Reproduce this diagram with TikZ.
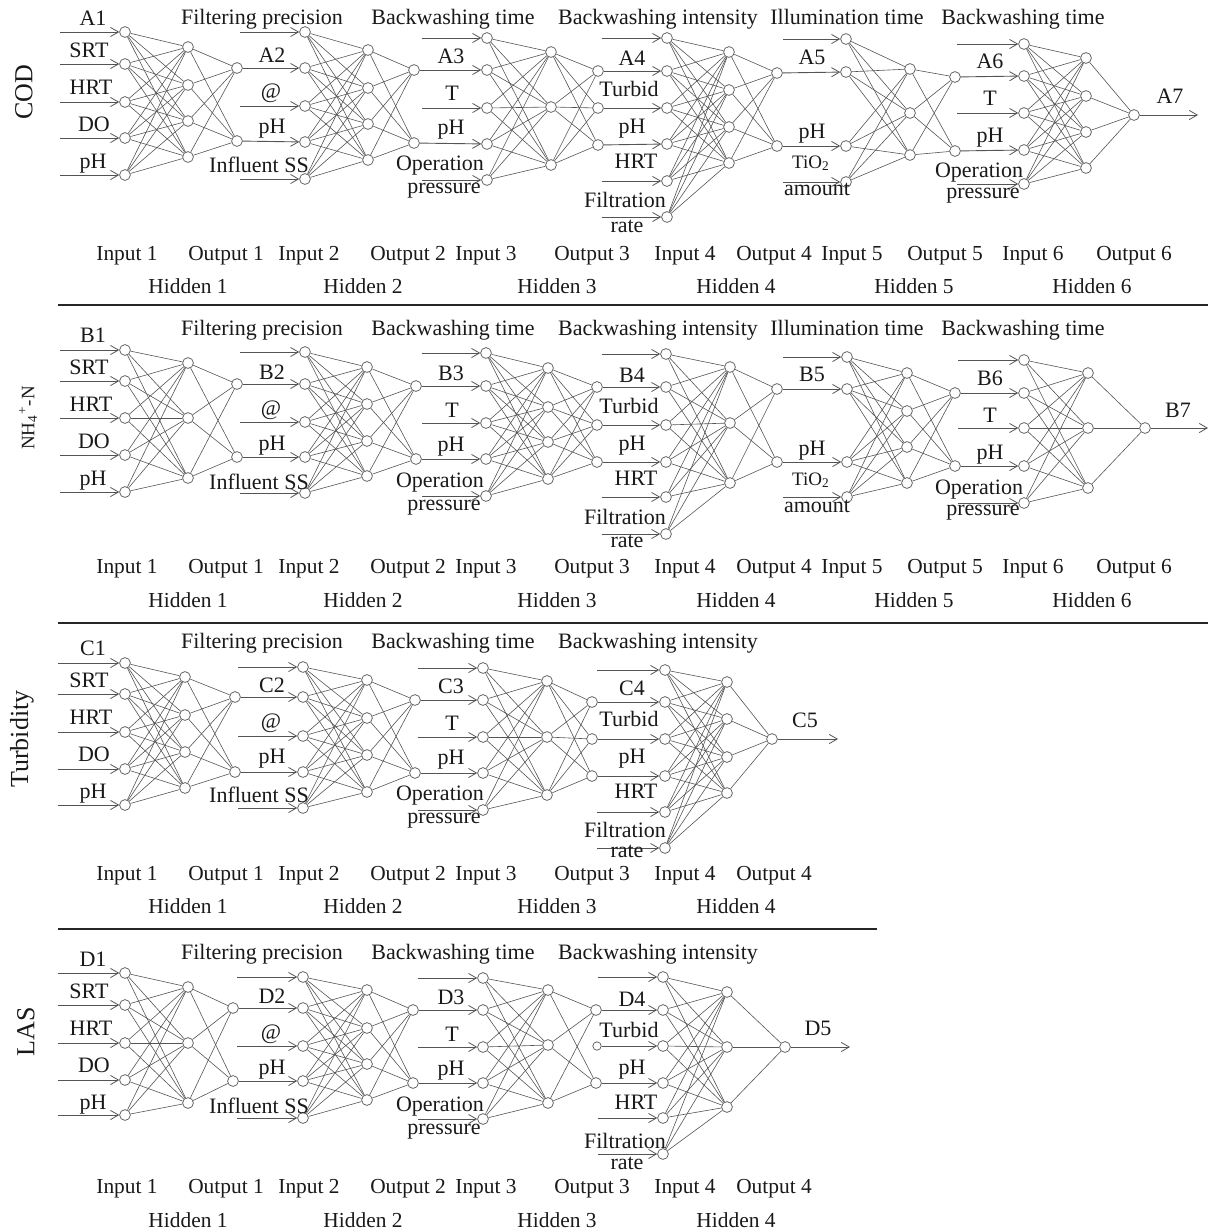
\documentclass[tikz,border=0pt]{standalone}
\usepackage{fontspec}
\setmainfont{Liberation Serif}
\usetikzlibrary{arrows.meta}
\definecolor{ln}{gray}{0.33}
\definecolor{tx}{gray}{0.1}
\tikzset{
 neu/.style={circle,draw=ln,fill=white,line width=0.35pt,minimum size=5.4pt,inner sep=0pt},
 neus/.style={neu,minimum size=4.2pt},
 syn/.style={draw=ln,line width=0.3pt},
 inar/.style={draw=ln,line width=0.45pt,-{Straight Barb[length=4pt,width=4.6pt,line width=0.4pt]}},
 lab/.style={anchor=base,inner sep=0pt,font=\fontsize{11}{13}\selectfont,text=tx},
 hlab/.style={lab,font=\fontsize{11}{13}\selectfont},
 slab/.style={lab,font=\fontsize{9.5}{11}\selectfont},
 blab/.style={lab,font=\fontsize{10.7}{12}\selectfont},
 side/.style={rotate=90,inner sep=0pt,font=\fontsize{13}{15}\selectfont,text=tx},
 sepl/.style={draw=black!85,line width=0.6pt}
}
\newcommand\nnin[4]{\foreach \yy [count=\k] in {#4} {\node[neu] (#1-\k) at (#2,\yy) {}; \coordinate (#1-s\k) at (#3,\yy);}}
\newcommand\nnlayer[3]{\foreach \yy [count=\k] in {#3} {\node[neu] (#1-\k) at (#2,\yy) {};}}
\newcommand\nnfull[4]{\foreach \i in {1,...,#2} {\foreach \j in {1,...,#4} {\draw[syn] (#1-\i) -- (#3-\j);}}}
\newcommand\nnarr[2]{\foreach \k in {#2} {\draw[inar] (#1-s\k) -- (#1-\k);}}
\newcommand\nnfeed[2]{\draw[inar] (#1) -- (#2);}
\newcommand\labsfront[3]{%
\node[lab] (#1-l11) at (93,25) {#11};
\node[lab] (#1-l12) at (89,57) {SRT};
\node[lab] (#1-l13) at (91,94) {HRT};
\node[lab] (#1-l14) at (94,131) {DO};
\node[lab] (#1-l15) at (93,168) {pH};
\node[hlab] (#1-h2) at (262,#2) {Filtering precision};
\node[lab] (#1-l21) at (272,62) {#12};
\node[lab] (#1-l22) at (271,98) {@};
\node[lab] (#1-l23) at (272,133) {pH};
\node[lab] (#1-l24) at (259,172) {Influent SS};
\node[hlab] (#1-h3) at (453,#2) {Backwashing time};
\node[lab] (#1-l31) at (451,63) {#13};
\node[lab] (#1-l32) at (452,100) {T};
\node[lab] (#1-l33) at (451,134) {pH};
\node[lab] (#1-l34) at (440,170) {Operation};
\node[lab] (#1-l35) at (444,193) {pressure};
\node[hlab] (#1-h4) at (658,#2) {Backwashing intensity};
\node[lab] (#1-l41) at (632,65) {#14};
\node[lab] (#1-l42) at (629,96) {Turbid};
\node[lab] (#1-l43) at (632,133) {pH};
\node[lab] (#1-l44) at (636,168) {HRT};
\node[lab] (#1-l45) at (625,207) {Filtration};
\node[lab] (#1-l46) at (627,#3) {rate};
}
\newcommand\labsback[2]{%
\node[hlab] (#1-h5) at (847,#2) {Illumination time};
\node[lab] (#1-l51) at (812,64) {#15};
\node[lab] (#1-l52) at (812,138) {pH};
\node[slab] (#1-l53) at (811,168) {TiO\textsubscript{2}};
\node[lab] (#1-l54) at (817,195) {amount};
\node[hlab] (#1-h6) at (1023,#2) {Backwashing time};
\node[lab] (#1-l61) at (990,68) {#16};
\node[lab] (#1-l62) at (990,105) {T};
\node[lab] (#1-l63) at (990,142) {pH};
\node[lab] (#1-l64) at (979,177) {Operation};
\node[lab] (#1-l65) at (983,198) {pressure};
}
\newcommand\botlabs[4]{\foreach \n/\xi/\xo/\xh in {#2} {\node[blab] (#1-in\n) at (\xi,#3) {Input \n}; \node[blab] (#1-out\n) at (\xo,#3) {Output \n}; \node[blab] (#1-hid\n) at (\xh,#4) {Hidden \n};}}
\begin{document}
\begin{tikzpicture}[x=0.5pt,y=-0.5pt]
\useasboundingbox (0,0) rectangle (1208,1232);
% ---------------- Panel A : COD
\nnin{A1i}{125}{60}{32,64,102,138,175}
\nnlayer{A1h}{188}{47,85,121,157}
\nnlayer{A1o}{237}{68,141}
\nnin{A2i}{305}{240}{32,68,106,142,179}
\nnlayer{A2h}{368}{50,88,124,160}
\nnlayer{A2o}{414}{70,143}
\nnin{A3i}{487}{422}{38,70,108,144,180}
\nnlayer{A3h}{551}{52,107,165}
\nnlayer{A3o}{598}{71,108,145}
\nnin{A4i}{667}{602}{38,71,108,144,181,217}
\nnlayer{A4h}{729}{52,90,127,163}
\nnlayer{A4o}{777}{73,146}
\nnin{A5i}{846}{783}{39,72,146,182}
\nnlayer{A5h}{910}{69,113,155}
\nnlayer{A5o}{955}{77,151}
\nnin{A6i}{1024}{957}{44,76,113,150,184}
\nnlayer{A6h}{1086}{58,96,132,168}
\nnlayer{A6o}{1134}{115}
\coordinate (Aend) at (1198,115);
\nnfull{A1i}{5}{A1h}{4}\nnfull{A1h}{4}{A1o}{2}
\nnfull{A2i}{5}{A2h}{4}\nnfull{A2h}{4}{A2o}{2}
\nnfull{A3i}{5}{A3h}{3}\nnfull{A3h}{3}{A3o}{3}
\nnfull{A4i}{6}{A4h}{4}\nnfull{A4h}{4}{A4o}{2}
\nnfull{A5i}{4}{A5h}{3}\nnfull{A5h}{3}{A5o}{2}
\nnfull{A6i}{5}{A6h}{4}\nnfull{A6h}{4}{A6o}{1}
\nnarr{A1i}{1,2,3,4,5}
\nnarr{A2i}{1,3,5}\nnfeed{A1o-1}{A2i-2}\nnfeed{A1o-2}{A2i-4}
\nnarr{A3i}{1,3,5}\nnfeed{A2o-1}{A3i-2}\nnfeed{A2o-2}{A3i-4}
\nnarr{A4i}{1,5,6}\nnfeed{A3o-1}{A4i-2}\nnfeed{A3o-2}{A4i-3}\nnfeed{A3o-3}{A4i-4}
\nnarr{A5i}{1,4}\nnfeed{A4o-1}{A5i-2}\nnfeed{A4o-2}{A5i-3}
\nnarr{A6i}{1,3,5}\nnfeed{A5o-1}{A6i-2}\nnfeed{A5o-2}{A6i-4}
\nnfeed{A6o-1}{Aend}
\labsfront{A}{24}{232}
\labsback{A}{24}
\node[lab] (A-l7) at (1170,103) {A7};
\botlabs{A}{1/127/226/188,2/309/408/363,3/486/592/557,4/685/774/736,5/852/945/914,6/1033/1134/1092}{260}{293}
% ---------------- Panel B : NH4
\begin{scope}[shift={(0,317)}]
\nnin{B1i}{125}{60}{33,64,101,138,175}
\nnlayer{B1h}{188}{46,101,161}
\nnlayer{B1o}{237}{67,140}
\nnin{B2i}{305}{240}{35,67,105,140,176}
\nnlayer{B2h}{367}{50,87,124,159}
\nnlayer{B2o}{416}{69,142}
\nnin{B3i}{486}{422}{36,69,106,142,179}
\nnlayer{B3h}{548}{51,90,125,162}
\nnlayer{B3o}{597}{70,108,145}
\nnin{B4i}{666}{602}{37,70,108,145,180,217}
\nnlayer{B4h}{730}{50,106,166}
\nnlayer{B4o}{777}{72,145}
\nnin{B5i}{847}{783}{40,72,145,180}
\nnlayer{B5h}{907}{56,94,130,166}
\nnlayer{B5o}{955}{76,149}
\nnin{B6i}{1024}{958}{43,76,111,149,186}
\nnlayer{B6h}{1088}{56,111,171}
\nnlayer{B6o}{1145}{111}
\coordinate (Bend) at (1208,111);
\nnfull{B1i}{5}{B1h}{3}\nnfull{B1h}{3}{B1o}{2}
\nnfull{B2i}{5}{B2h}{4}\nnfull{B2h}{4}{B2o}{2}
\nnfull{B3i}{5}{B3h}{4}\nnfull{B3h}{4}{B3o}{3}
\nnfull{B4i}{6}{B4h}{3}\nnfull{B4h}{3}{B4o}{2}
\nnfull{B5i}{4}{B5h}{4}\nnfull{B5h}{4}{B5o}{2}
\nnfull{B6i}{5}{B6h}{3}\nnfull{B6h}{3}{B6o}{1}
\nnarr{B1i}{1,2,3,4,5}
\nnarr{B2i}{1,3,5}\nnfeed{B1o-1}{B2i-2}\nnfeed{B1o-2}{B2i-4}
\nnarr{B3i}{1,3,5}\nnfeed{B2o-1}{B3i-2}\nnfeed{B2o-2}{B3i-4}
\nnarr{B4i}{1,5,6}\nnfeed{B3o-1}{B4i-2}\nnfeed{B3o-2}{B4i-3}\nnfeed{B3o-3}{B4i-4}
\nnarr{B5i}{1,4}\nnfeed{B4o-1}{B5i-2}\nnfeed{B4o-2}{B5i-3}
\nnarr{B6i}{1,3,5}\nnfeed{B5o-1}{B6i-2}\nnfeed{B5o-2}{B6i-4}
\nnfeed{B6o-1}{Bend}
\labsfront{B}{18}{230}
\labsback{B}{18}
\node[lab] (B-l7) at (1178,100) {B7};
\botlabs{B}{1/127/226/188,2/309/408/363,3/486/592/557,4/685/774/736,5/852/945/914,6/1033/1134/1092}{256}{290}
\end{scope}
% ---------------- Panel C : Turbidity
\begin{scope}[shift={(0,630)}]
\nnin{C1i}{125}{58}{33,64,102,139,175}
\nnlayer{C1h}{185}{47,85,122,158}
\nnlayer{C1o}{235}{67,142}
\nnin{C2i}{303}{238}{37,67,106,142,178}
\nnlayer{C2h}{367}{50,88,125,162}
\nnlayer{C2o}{415}{70,143}
\nnin{C3i}{483}{418}{38,70,107,143,180}
\nnlayer{C3h}{547}{51,107,165}
\nnlayer{C3o}{592}{72,109,146}
\nnin{C4i}{665}{597}{40,72,109,146,182,218}
\nnlayer{C4h}{727}{52,89,127,163}
\nnlayer{C4o}{772}{109}
\coordinate (Cend) at (838,109);
\nnfull{C1i}{5}{C1h}{4}\nnfull{C1h}{4}{C1o}{2}
\nnfull{C2i}{5}{C2h}{4}\nnfull{C2h}{4}{C2o}{2}
\nnfull{C3i}{5}{C3h}{3}\nnfull{C3h}{3}{C3o}{3}
\nnfull{C4i}{6}{C4h}{4}\nnfull{C4h}{4}{C4o}{1}
\nnarr{C1i}{1,2,3,4,5}
\nnarr{C2i}{1,3,5}\nnfeed{C1o-1}{C2i-2}\nnfeed{C1o-2}{C2i-4}
\nnarr{C3i}{1,3,5}\nnfeed{C2o-1}{C3i-2}\nnfeed{C2o-2}{C3i-4}
\nnarr{C4i}{1,5,6}\nnfeed{C3o-1}{C4i-2}\nnfeed{C3o-2}{C4i-3}\nnfeed{C3o-3}{C4i-4}
\nnfeed{C4o-1}{Cend}
\labsfront{C}{18}{227}
\node[lab] (C-l5) at (805,97) {C5};
\botlabs{C}{1/127/226/188,2/309/408/363,3/486/592/557,4/685/774/736}{250}{283}
\end{scope}
% ---------------- Panel D : LAS
\begin{scope}[shift={(0,941)}]
\nnin{D1i}{125}{58}{32,64,102,139,174}
\nnlayer{D1h}{188}{46,102,162}
\nnlayer{D1o}{233}{67,140}
\nnin{D2i}{303}{237}{36,67,105,140,177}
\nnlayer{D2h}{367}{49,87,123,159}
\nnlayer{D2o}{413}{69,142}
\nnin{D3i}{483}{418}{37,69,106,142,178}
\nnlayer{D3h}{548}{49,104,162}
\nnlayer{D3o}{596}{69,142}
\node[neus] (D3x) at (597,105) {};
\nnin{D4i}{663}{598}{36,69,105,142,177,213}
\nnlayer{D4h}{727}{51,106,166}
\nnlayer{D4o}{785}{106}
\coordinate (Dend) at (850,106);
\nnfull{D1i}{5}{D1h}{3}\nnfull{D1h}{3}{D1o}{2}
\nnfull{D2i}{5}{D2h}{4}\nnfull{D2h}{4}{D2o}{2}
\nnfull{D3i}{5}{D3h}{3}\nnfull{D3h}{3}{D3o}{2}
\nnfull{D4i}{6}{D4h}{3}\nnfull{D4h}{3}{D4o}{1}
\nnarr{D1i}{1,2,3,4,5}
\nnarr{D2i}{1,3,5}\nnfeed{D1o-1}{D2i-2}\nnfeed{D1o-2}{D2i-4}
\nnarr{D3i}{1,3,5}\nnfeed{D2o-1}{D3i-2}\nnfeed{D2o-2}{D3i-4}
\nnarr{D4i}{1,5,6}\nnfeed{D3o-1}{D4i-2}\nnfeed{D3x}{D4i-3}\nnfeed{D3o-2}{D4i-4}
\nnfeed{D4o-1}{Dend}
\labsfront{D}{18}{228}
\node[lab] (D-l5) at (818,94) {D5};
\botlabs{D}{1/127/226/188,2/309/408/363,3/486/592/557,4/685/774/736}{252}{286}
\end{scope}
% ---------------- side labels and separators
\node[side] (sCOD) at (24,92) {COD};
\node[side,font=\fontsize{9.5}{11}\selectfont] (sNH) at (28,418) {NH\textsubscript{4}\textsuperscript{+}-N};
\node[side] (sTur) at (22,739) {Turbidity};
\node[side] (sLAS) at (26,1032) {LAS};
\coordinate (s1a) at (58,305); \coordinate (s1b) at (1208,305);
\coordinate (s2a) at (58,623); \coordinate (s2b) at (1208,623);
\coordinate (s3a) at (58,929); \coordinate (s3b) at (877,929);
\draw[sepl] (s1a) -- (s1b);
\draw[sepl] (s2a) -- (s2b);
\draw[sepl] (s3a) -- (s3b);
\end{tikzpicture}
\end{document}
